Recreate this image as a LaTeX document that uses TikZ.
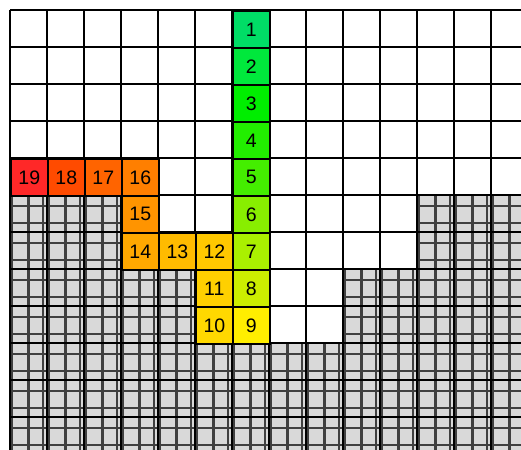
\documentclass[tikz,border=0pt]{standalone}
\usepackage{fontspec}
\setmainfont{Liberation Sans}

\definecolor{trail1}{HTML}{00DD66}
\definecolor{trail2}{HTML}{00E83C}
\definecolor{trail3}{HTML}{00EE00}
\definecolor{trail4}{HTML}{22EE00}
\definecolor{trail5}{HTML}{44EE00}
\definecolor{trail6}{HTML}{88EE00}
\definecolor{trail7}{HTML}{AAF000}
\definecolor{trail8}{HTML}{CCEE00}
\definecolor{trail9}{HTML}{FFEE00}
\definecolor{trail10}{HTML}{FFD800}
\definecolor{trail11}{HTML}{FFD000}
\definecolor{trail12}{HTML}{FFC800}
\definecolor{trail13}{HTML}{FFBB00}
\definecolor{trail14}{HTML}{FFA800}
\definecolor{trail15}{HTML}{FF9400}
\definecolor{trail16}{HTML}{FF7F00}
\definecolor{trail17}{HTML}{FF6400}
\definecolor{trail18}{HTML}{FF4B00}
\definecolor{trail19}{HTML}{FF2828}

\begin{document}
\begin{tikzpicture}[
    x=1cm, y=-1cm,
    font=\fontsize{15}{17}\selectfont,
    cellbox/.style={rectangle, draw, line width=1.3pt, minimum size=1cm, inner sep=0pt, anchor=north west},
    gridline/.style={line width=1.3pt},
    hatch/.style={black!75, line width=1.6pt},
    wallcell/.pic={
        \fill[black!15] (0,0) rectangle (1,1);
        \foreach \dx in {0.06,0.5,0.9} \draw[hatch] (\dx,0) -- (\dx,1);
        \foreach \dy in {0.3,0.75} \draw[hatch] (0,\dy) -- (1,\dy);
    }
]
\useasboundingbox (-0.27,-0.27) rectangle (13.81,11.89);
\clip (-0.27,-0.27) rectangle (13.81,11.89);
\fill[white] (-0.27,-0.27) rectangle (13.81,11.89);

% walls
\foreach \r in {5,6} \foreach \c in {0,1,2,11,12,13} \pic at (\c,\r) {wallcell};
\foreach \r in {7,8} \foreach \c in {0,...,4,9,10,...,13} \pic at (\c,\r) {wallcell};
\foreach \r in {9,10,11} \foreach \c in {0,...,13} \pic at (\c,\r) {wallcell};

\draw[gridline] (0,0) grid (14,12);

% path cells
\foreach \n/\c/\r in {1/6/0, 2/6/1, 3/6/2, 4/6/3, 5/6/4, 6/6/5, 7/6/6, 8/6/7, 9/6/8,
    10/5/8, 11/5/7, 12/5/6, 13/4/6, 14/3/6, 15/3/5, 16/3/4, 17/2/4, 18/1/4, 19/0/4}
    \node[cellbox, fill=trail\n] (cell\n) at (\c,\r) {\n};
\end{tikzpicture}
\end{document}
